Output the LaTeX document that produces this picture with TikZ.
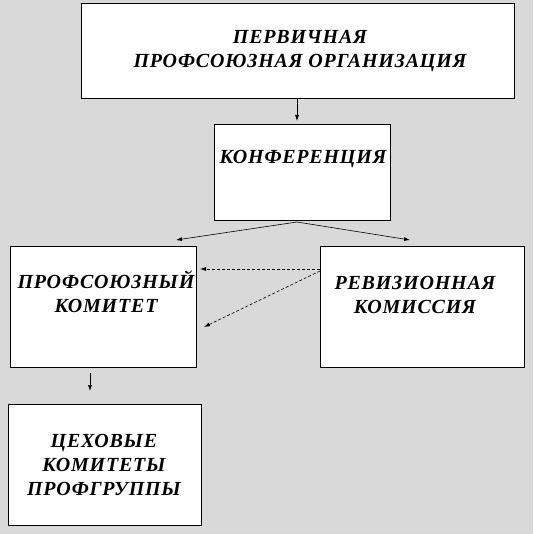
\documentclass[tikz,border=0pt]{standalone}
\usepackage{fontspec}
\setmainfont{Liberation Serif}
\newfontfamily\orgfont[LetterSpace=4]{Liberation Serif Bold Italic}
\usetikzlibrary{arrows.meta,positioning}

\begin{document}
\begin{tikzpicture}[x=1pt, y=-1pt, line width=0.6pt,
  box/.style={draw, fill=white, inner sep=0pt},
  lbl/.style={font=\orgfont\fontsize{20}{24}\selectfont, align=center, inner sep=0pt},
  arr/.style={-{Latex[length=6pt,width=4pt]}},
  darr/.style={arr, dash pattern=on 3pt off 2pt}]

	\fill[gray!30] (0,0) rectangle (533,534); % фон
	\useasboundingbox (0,0) rectangle (533,534);

	% Блоки
	\node[box, minimum width=433, minimum height=95] (perv) at (297.5,50.5) {};
	\node[box, minimum width=176, minimum height=96] (konf) at (302,172) {};
	\node[box, minimum width=186, minimum height=121] (profkom) at (103,306.5) {};
	\node[box, minimum width=204, minimum height=121] (revkom) at (422,306.5) {};
	\node[box, minimum width=193, minimum height=121] (tsekh) at (104.5,464.5) {};

	% Надписи
	\node[lbl] (pervtxt) at (300,51) {ПЕРВИЧНАЯ\\ПРОФСОЮЗНАЯ ОРГАНИЗАЦИЯ};
	\node[lbl] (konftxt) at (303,159) {КОНФЕРЕНЦИЯ};
	\node[lbl] (proftxt) at (106,292) {ПРОФСОЮЗНЫЙ\\КОМИТЕТ};
	\node[lbl] (revtxt) at (415,295) {РЕВИЗИОННАЯ\\КОМИССИЯ};
	\node[lbl] (tsekhtxt) at (104,465) {ЦЕХОВЫЕ\\КОМИТЕТЫ\\ПРОФГРУППЫ};

	% Точки стрелок
	\coordinate (p1) at (297,98);
	\coordinate (k1) at (297,121);
	\coordinate (k2) at (297,222);
	\coordinate (pk) at (176,240);
	\coordinate (rk) at (410,240);
	\coordinate (r1) at (320,269);
	\coordinate (r2) at (320,271);
	\coordinate (pd1) at (200,269);
	\coordinate (pd2) at (204,327);
	\coordinate (t1) at (90,373);
	\coordinate (t2) at (90,391);

	% Стрелки
	\draw[arr] (p1) -- (k1);
	\draw[arr] (k2) -- (pk);
	\draw[arr] (k2) -- (rk);
	\draw[darr] (r1) -- (pd1);
	\draw[darr] (r2) -- (pd2);
	\draw[arr] (t1) -- (t2);

\end{tikzpicture}
\end{document}
